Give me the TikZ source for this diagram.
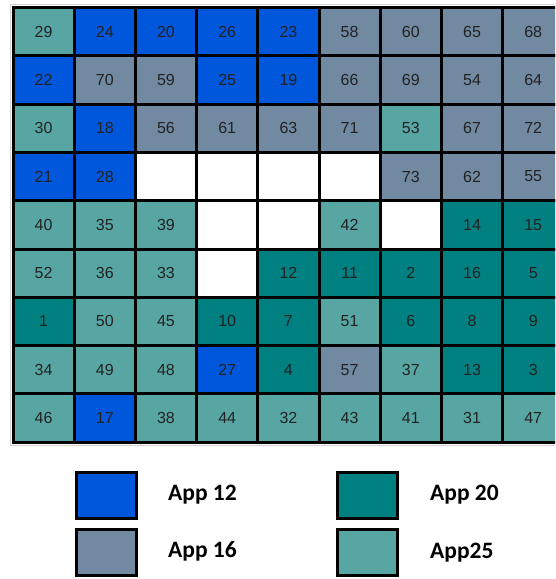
\documentclass[tikz,border=0pt]{standalone}
\usepackage{fontspec}
\setmainfont{Liberation Sans}
\newfontfamily\legfont{Carlito}
\definecolor{cB}{HTML}{0057DC}
\definecolor{cG}{HTML}{7189A1}
\definecolor{cD}{HTML}{008080}
\definecolor{cL}{HTML}{58A6A3}
\definecolor{cW}{HTML}{FFFFFF}
\definecolor{numtxt}{HTML}{222222}
\begin{document}
\begin{tikzpicture}[x=1pt,y=-1pt,
  cell/.style={draw=black, line width=3pt, minimum width=61.2pt, minimum height=48.3pt,
    inner sep=0pt, outer sep=0pt, text=numtxt, font=\fontsize{16}{16}\selectfont},
  legbox/.style={draw=black, line width=3pt, minimum width=60pt, minimum height=46pt,
    inner sep=0pt, outer sep=0pt},
  legtxt/.style={anchor=west, inner sep=0pt, font=\legfont\bfseries\fontsize{23.5}{24}\selectfont}]
\useasboundingbox (0,0) rectangle (555,579);
\clip (0,0) rectangle (555,579);
\fill[white] (0,0) rectangle (555,579);
\draw[gray!35, line width=1pt] (10,4.5) -- (555,4.5);
\draw[gray!35, line width=1pt] (10,445.5) -- (555,445.5);
\draw[gray!35, line width=1pt] (10,4.5) -- (10,445.5);
\foreach \r/\rowlist in {
  1/{29/cL,24/cB,20/cB,26/cB,23/cB,58/cG,60/cG,65/cG,68/cG},
  2/{22/cB,70/cG,59/cG,25/cB,19/cB,66/cG,69/cG,54/cG,64/cG},
  3/{30/cL,18/cB,56/cG,61/cG,63/cG,71/cG,53/cL,67/cG,72/cG},
  4/{21/cB,28/cB,/cW,/cW,/cW,/cW,73/cG,62/cG,55/cG},
  5/{40/cL,35/cL,39/cL,/cW,/cW,42/cL,/cW,14/cD,15/cD},
  6/{52/cL,36/cL,33/cL,/cW,12/cD,11/cD,2/cD,16/cD,5/cD},
  7/{1/cD,50/cL,45/cL,10/cD,7/cD,51/cL,6/cD,8/cD,9/cD},
  8/{34/cL,49/cL,48/cL,27/cB,4/cD,57/cG,37/cL,13/cD,3/cD},
  9/{46/cL,17/cB,38/cL,44/cL,32/cL,43/cL,41/cL,31/cL,47/cL}} {
  \foreach \n/\c [count=\k] in \rowlist {
    \node[cell, fill=\c] (c\r-\k) at ({13+61.2*(\k-0.5)},{7.5+48.3*(\r-0.5)}) {\raisebox{-1pt}{\n}};
  }
}
\node[legbox, fill=cB] (l12) at (106,495) {};
\node[legbox, fill=cG] (l16) at (106,552.5) {};
\node[legbox, fill=cD] (l20) at (367,495) {};
\node[legbox, fill=cL] (l25) at (367,552.5) {};
\node[legtxt] (t12) at (168,495) {App 12};
\node[legtxt] (t16) at (168,551) {App 16};
\node[legtxt] (t20) at (430,495) {App 20};
\node[legtxt] (t25) at (430,553) {App25};
\end{tikzpicture}
\end{document}
